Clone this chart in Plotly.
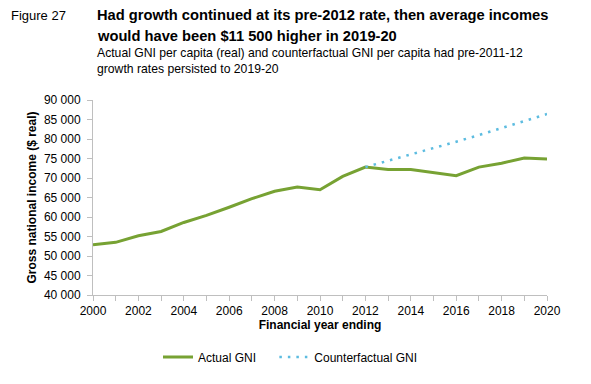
import plotly.graph_objects as go

years = list(range(2000, 2021))
actual_gni = [52900, 53500, 55200, 56300, 58600, 60400, 62500, 64700, 66600, 67700,
              67000, 70400, 72800, 72200, 72200, 71400, 70600, 72800, 73800, 75100, 74900]
cf_years = list(range(2012, 2021))
counterfactual_gni = [72800, 74400, 76000, 77600, 79300, 81000, 82800, 84600, 86400]

y_ticks = list(range(40000, 90001, 5000))

W, H = 591, 384
L, R, T, B = 93, 44, 100, 89
PW, PH = W - L - R, H - T - B


def px(xp):
    return (xp - L) / PW


def py(yp):
    return (H - B - yp) / PH


fig = go.Figure()
fig.add_trace(go.Scatter(x=years, y=actual_gni, mode="lines",
                         name="Actual GNI\u00a0\u00a0\u00a0\u00a0",
                         line=dict(color="#77A233", width=3)))
fig.add_trace(go.Scatter(x=cf_years, y=counterfactual_gni, mode="lines", name="Counterfactual GNI",
                         line=dict(color="#5DBCE0", width=2.5, dash="2.5px,6px")))

font = "Liberation Sans, Arial, sans-serif"
fig.update_layout(
    width=W, height=H,
    margin=dict(l=L, r=R, t=T, b=B, autoexpand=False),
    paper_bgcolor="white", plot_bgcolor="white",
    font=dict(family=font, size=12, color="#000"),
    separators=". ",
    showlegend=True,
    legend=dict(orientation="h", x=px(158), xanchor="left", y=py(357), yanchor="middle",
                font=dict(size=12), tracegroupgap=0),
    xaxis=dict(range=[2000, 2020], tickmode="linear", tick0=2000, dtick=2,
               showgrid=False, zeroline=False, showline=True, linecolor="#BFBFBF",
               ticks="outside", ticklen=5, tickcolor="#BFBFBF",
               minor=dict(dtick=1, ticks="outside", ticklen=5, tickcolor="#BFBFBF"),
               tickfont=dict(size=12),
               title=dict(text="<b>Financial year ending</b>", font=dict(size=12), standoff=3)),
    yaxis=dict(range=[40000, 90000], tickvals=y_ticks, tickformat=",d",
               showgrid=False, zeroline=False, showline=True, linecolor="#BFBFBF",
               ticks="outside", ticklen=5, tickcolor="#BFBFBF", ticklabelstandoff=4,
               tickfont=dict(size=12),
               title=dict(text="<b>Gross national income ($ real)</b>", font=dict(size=12), standoff=4)),
)

fig.add_annotation(text="Figure 27", xref="paper", yref="paper", x=px(9), y=py(15),
                   xanchor="left", yanchor="middle", showarrow=False, font=dict(size=13))
fig.add_annotation(text="<b>Had growth continued at its pre-2012 rate, then average incomes</b>",
                   xref="paper", yref="paper", x=px(95), y=py(15),
                   xanchor="left", yanchor="middle", showarrow=False, font=dict(size=14.7))
fig.add_annotation(text="<b>would have been $11 500 higher in 2019-20</b>",
                   xref="paper", yref="paper", x=px(95), y=py(36),
                   xanchor="left", yanchor="middle", showarrow=False, font=dict(size=14.7))
fig.add_annotation(text="Actual GNI per capita (real) and counterfactual GNI per capita had pre-2011-12",
                   xref="paper", yref="paper", x=px(95), y=py(53),
                   xanchor="left", yanchor="middle", showarrow=False, font=dict(size=12.2))
fig.add_annotation(text="growth rates persisted to 2019-20",
                   xref="paper", yref="paper", x=px(95), y=py(69),
                   xanchor="left", yanchor="middle", showarrow=False, font=dict(size=12.2))

fig.write_html("out.html", config={"displayModeBar": False},
               post_script="document.body.style.margin='0';document.body.style.padding='0';")
